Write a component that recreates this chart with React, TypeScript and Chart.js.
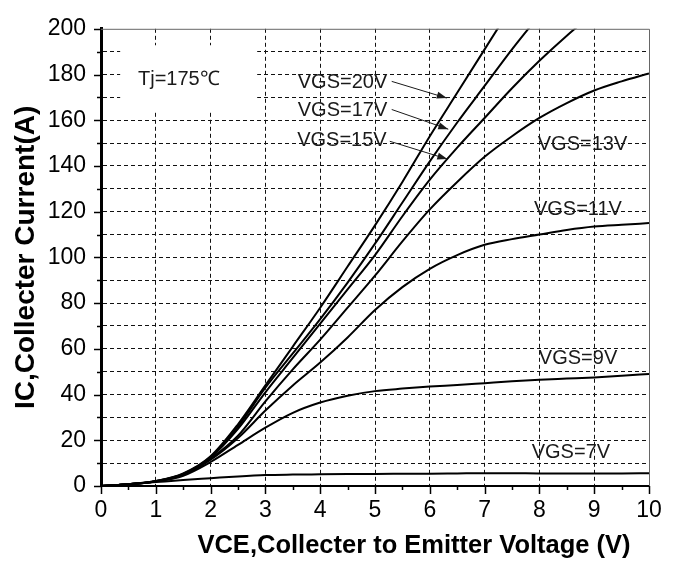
import React, { useEffect, useRef } from 'react';
import { Chart, registerables } from 'chart.js';

Chart.register(...registerables);

// ---- data ----
const VCE = [0, 0.5, 1, 1.5, 2, 2.5, 3, 3.5, 4, 4.5, 5, 5.5, 6, 6.5, 7, 7.5, 8, 8.5, 9, 9.5, 10];
const IC_VGS20 = [0, 0.8, 2.2, 5.5, 13, 27, 44, 61, 78, 96, 114, 133, 153, 172, 191, 210];
const IC_VGS17 = [0, 0.8, 2.2, 5.3, 12.7, 26, 43, 58, 73, 89, 106, 124, 142, 159, 175, 191, 206];
const IC_VGS15 = [0, 0.8, 2.1, 5.2, 12.5, 25, 41, 56, 71, 86, 101, 118, 134, 148, 161, 174, 186, 197, 207];
const IC_VGS13 = [0, 0.8, 2, 5, 12, 22, 37, 51, 64, 78, 92, 107, 121, 133, 144, 153, 161, 167.5, 173, 177, 180.5];
const IC_VGS11 = [0, 0.8, 2, 4.8, 11.5, 21, 33, 44, 54, 65, 77, 87, 95, 101, 105.5, 108, 110, 112, 113.5, 114.3, 115];
const IC_VGS9 = [0, 0.8, 2, 4.5, 10.5, 18, 25.5, 32, 36.5, 39.5, 41.5, 42.6, 43.5, 44.2, 45, 45.8, 46.5, 47, 47.5, 48.2, 49];
const IC_VGS7 = [0, 0.8, 1.7, 2.6, 3.4, 4.2, 4.8, 5, 5.1, 5.2, 5.3, 5.35, 5.4, 5.5, 5.6, 5.6, 5.5, 5.5, 5.5, 5.5, 5.6];

const SERIES_NAMES = ['VGS=20V', 'VGS=17V', 'VGS=15V', 'VGS=13V', 'VGS=11V', 'VGS=9V', 'VGS=7V'];
const TEMP_LABEL = 'Tj=175\u2103';
const X_TITLE = 'VCE,Collecter to Emitter Voltage (V)';
const Y_TITLE = 'IC,Collecter Current(A)';
const X_MIN = 0;
const X_MAX = 10;
const Y_MIN = 0;
const Y_MAX = 200;

// ---- annotation placement (data units) ----
const LABEL_TEXTS = [TEMP_LABEL, ...SERIES_NAMES];
const LABEL_POS = [
  [0.675, 178.4],
  [3.59, 177.1],
  [3.59, 164.8],
  [3.58, 151.9],
  [7.97, 150.2],
  [7.9, 121.8],
  [7.99, 56.5],
  [7.86, 15.3],
];
const ARROWS = [
  [5.305, 177.0, 6.31, 169.7],
  [5.305, 164.7, 6.337, 156.1],
  [5.27, 150.8, 6.32, 143.0],
];
const TEMP_BOX = [0.35, 192.8, 2.85, 164.3];

const FONT = '"Liberation Sans", Arial, sans-serif';

export default function App() {
  const ref = useRef<HTMLCanvasElement>(null);

  useEffect(() => {
    const canvas = ref.current;
    if (!canvas) return;
    const seriesList = [IC_VGS20, IC_VGS17, IC_VGS15, IC_VGS13, IC_VGS11, IC_VGS9, IC_VGS7];
    const datasets = seriesList.map((arr, i) => ({
      label: SERIES_NAMES[i],
      data: arr.map((v, j) => ({ x: VCE[j], y: v })),
      borderColor: '#000',
      backgroundColor: '#000',
      borderWidth: 2,
      pointRadius: 0,
      cubicInterpolationMode: 'monotone' as const,
      fill: false,
    }));

    const drawArrow = (ctx: CanvasRenderingContext2D, x1: number, y1: number, x2: number, y2: number) => {
      ctx.beginPath();
      ctx.moveTo(x1, y1);
      ctx.lineTo(x2, y2);
      ctx.stroke();
      const a = Math.atan2(y2 - y1, x2 - x1);
      const L = 10;
      const W = 3.5;
      ctx.beginPath();
      ctx.moveTo(x2, y2);
      ctx.lineTo(x2 - L * Math.cos(a) + W * Math.sin(a), y2 - L * Math.sin(a) - W * Math.cos(a));
      ctx.lineTo(x2 - L * Math.cos(a) - W * Math.sin(a), y2 - L * Math.sin(a) + W * Math.cos(a));
      ctx.closePath();
      ctx.fill();
    };

    const plugin = {
      id: 'ivDecor',
      beforeDatasetsDraw(chart: any) {
        const { ctx, scales } = chart;
        const x = scales.x;
        const y = scales.y;
        const l = x.getPixelForValue(TEMP_BOX[0]);
        const t = y.getPixelForValue(TEMP_BOX[1]);
        const r = x.getPixelForValue(TEMP_BOX[2]);
        const b = y.getPixelForValue(TEMP_BOX[3]);
        ctx.save();
        ctx.fillStyle = '#fff';
        ctx.fillRect(l, t, r - l, b - t);
        ctx.restore();
      },
      afterDraw(chart: any) {
        const { ctx, scales, chartArea } = chart;
        const x = scales.x;
        const y = scales.y;
        ctx.save();
        // top & right frame
        ctx.strokeStyle = '#666';
        ctx.lineWidth = 1;
        ctx.setLineDash([]);
        ctx.beginPath();
        ctx.moveTo(chartArea.left, chartArea.top + 0.5);
        ctx.lineTo(chartArea.right + 0.5, chartArea.top + 0.5);
        ctx.lineTo(chartArea.right + 0.5, chartArea.bottom);
        ctx.stroke();
        // tick marks
        ctx.strokeStyle = '#000';
        ctx.lineWidth = 1.5;
        y.ticks.forEach((tk: any) => {
          const py = Math.round(y.getPixelForValue(tk.value)) + 0.5;
          const len = tk.value % 20 === 0 ? 7 : 4;
          ctx.beginPath();
          ctx.moveTo(chartArea.left - len, py);
          ctx.lineTo(chartArea.left, py);
          ctx.stroke();
        });
        x.ticks.forEach((tk: any) => {
          const px = Math.round(x.getPixelForValue(tk.value)) + 0.5;
          const len = Number.isInteger(tk.value) ? 8 : 4;
          ctx.beginPath();
          ctx.moveTo(px, chartArea.bottom);
          ctx.lineTo(px, chartArea.bottom + len);
          ctx.stroke();
        });
        // annotations
        ctx.fillStyle = '#1a1a1a';
        ctx.font = '20px ' + FONT;
        ctx.textAlign = 'left';
        ctx.textBaseline = 'alphabetic';
        LABEL_TEXTS.forEach((txt, i) => {
          const px = x.getPixelForValue(LABEL_POS[i][0]);
          const py = y.getPixelForValue(LABEL_POS[i][1]);
          ctx.fillText(txt, px, py + 7);
        });
        ctx.strokeStyle = '#1a1a1a';
        ctx.lineWidth = 1;
        ARROWS.forEach((a) => {
          drawArrow(ctx, x.getPixelForValue(a[0]), y.getPixelForValue(a[1]), x.getPixelForValue(a[2]), y.getPixelForValue(a[3]));
        });
        // x axis title
        ctx.fillStyle = '#000';
        ctx.font = 'bold 25.5px ' + FONT;
        ctx.textAlign = 'center';
        ctx.textBaseline = 'alphabetic';
        ctx.fillText(X_TITLE, 414, 553);
        ctx.restore();
      },
    };

    const chart = new Chart(canvas, {
      type: 'line',
      data: { datasets },
      options: {
        animation: false,
        responsive: false,
        devicePixelRatio: 1,
        layout: { padding: { top: 16, right: 27, left: 0, bottom: 0 } },
        plugins: { legend: { display: false }, tooltip: { enabled: false }, title: { display: false } },
        scales: {
          x: {
            type: 'linear',
            min: X_MIN,
            max: X_MAX,
            afterFit: (s: any) => { s.height = 79; },
            ticks: {
              stepSize: 0.5,
              autoSkip: false,
              maxRotation: 0,
              padding: 11,
              color: '#000',
              font: { family: FONT, size: 23 },
              callback: (v: any) => (Number.isInteger(v) ? String(v) : ''),
            },
            grid: {
              drawTicks: false,
              color: (c: any) => {
                const v = c.tick ? c.tick.value : 0;
                return Number.isInteger(v) && v > X_MIN && v < X_MAX ? '#111' : 'rgba(0,0,0,0)';
              },
              lineWidth: 1,
            },
            border: { display: true, color: '#000', width: 2, dash: [4, 3] },
          },
          y: {
            type: 'linear',
            min: Y_MIN,
            max: Y_MAX,
            afterFit: (s: any) => { s.width = 101; },
            ticks: {
              stepSize: 10,
              autoSkip: false,
              padding: 15,
              color: '#000',
              font: { family: FONT, size: 23 },
              callback: (v: any) => (v % 20 === 0 ? String(v) : ''),
            },
            grid: {
              drawTicks: false,
              color: (c: any) => {
                const v = c.tick ? c.tick.value : 0;
                return v > Y_MIN && v < Y_MAX ? '#111' : 'rgba(0,0,0,0)';
              },
              lineWidth: 1,
            },
            border: { display: true, color: '#000', width: 3, dash: [4, 3] },
            title: {
              display: true,
              text: Y_TITLE,
              color: '#000',
              font: { family: FONT, size: 28, weight: 'bold' },
              padding: { top: 9, bottom: 0 },
            },
          },
        },
      },
      plugins: [plugin],
    } as any);

    return () => chart.destroy();
  }, []);

  return (
    <div style={{ position: 'fixed', left: 0, top: 0, width: 676, height: 565, background: '#fff' }}>
      <canvas ref={ref} width={676} height={565} style={{ width: 676, height: 565 }} />
    </div>
  );
}
